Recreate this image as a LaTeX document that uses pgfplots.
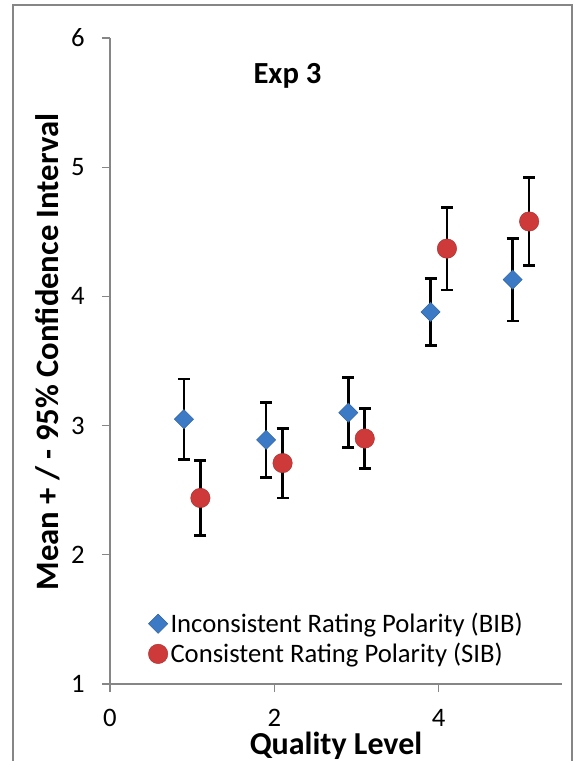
\documentclass[border=0pt]{standalone}
\usepackage{pgfplots}
\pgfplotsset{compat=1.18}
\usepackage{fontspec}
\setmainfont{Carlito}
\definecolor{MarkBlue}{HTML}{3C7AC6}
\definecolor{MarkRed}{HTML}{CE3A3A}
\definecolor{AxisGray}{HTML}{868686}

\begin{document}
\begin{tikzpicture}
\begin{axis}[
  scale only axis,
  width=339pt,
  height=484.5pt,
  xmin=0, xmax=5.5,
  ymin=1, ymax=6,
  axis x line=bottom,
  axis y line=left,
  axis line style={-, draw=AxisGray, line width=0.8pt},
  xtick={0,2,4},
  ytick={1,2,3,4,5,6},
  tick align=outside,
  major tick length=6pt,
  tick style={draw=AxisGray, line width=0.8pt},
  /pgf/number format/assume math mode=true,
  ticklabel style={font=\fontsize{20}{20}\selectfont},
  xticklabel style={yshift=-12.5pt, inner sep=0pt},
  yticklabel style={xshift=-9.5pt},
  every axis x label/.style={at={(rel axis cs:0.5,0)}, anchor=south, yshift=-57pt, inner sep=0pt},
  every axis y label/.style={at={(rel axis cs:0,0.514)}, anchor=center, xshift=-47pt, rotate=90},
  xlabel={Quality Level},
  ylabel={Mean + / - 95\% Confidence Interval},
  xlabel style={font=\bfseries\fontsize{24}{24}\selectfont},
  ylabel style={font=\bfseries\fontsize{24.5}{24.5}\selectfont},
  legend style={at={(rel axis cs:0.0755,0.1186)}, anchor=north west, draw=none, fill=none,
    font=\fontsize{20}{22}\selectfont, row sep=2.5pt},
  legend cell align=left,
  clip=false,
]
\addplot+[only marks, mark=square*, mark options={rotate=45, fill=MarkBlue, draw=MarkBlue!80!black, line width=0.3pt, mark size=5.1pt},
  error bars/.cd, y dir=both, y explicit,
  error bar style={black, line width=2pt},
  error mark options={rotate=90, mark size=4.5pt, line width=2pt, black}]
coordinates {
  (0.9,3.05) +- (0,0.31)
  (1.9,2.89) +- (0,0.29)
  (2.9,3.10) +- (0,0.27)
  (3.9,3.88) +- (0,0.26)
  (4.9,4.13) +- (0,0.32)
};
\addlegendentry{Inconsistent Rating Polarity (BIB)}
\addplot+[only marks, mark=*, mark options={fill=MarkRed, draw=MarkRed!80!black, line width=0.3pt, mark size=7.3pt},
  error bars/.cd, y dir=both, y explicit,
  error bar style={black, line width=2pt},
  error mark options={rotate=90, mark size=4.5pt, line width=2pt, black}]
coordinates {
  (1.1,2.44) +- (0,0.29)
  (2.1,2.71) +- (0,0.27)
  (3.1,2.90) +- (0,0.23)
  (4.1,4.37) +- (0,0.32)
  (5.1,4.58) +- (0,0.34)
};
\addlegendentry{Consistent Rating Polarity (SIB)}
\node[font=\bfseries\fontsize{23}{23}\selectfont] at (axis cs:2.16,5.71) {Exp 3};
\end{axis}
\draw[AxisGray, line width=0.8pt] (-72.75pt,-57.75pt) -- (-72.75pt,509.25pt) -- (346.5pt,509.25pt) -- (346.5pt,-57.75pt);
\pgfresetboundingbox
\useasboundingbox (-82.5pt,-57.75pt) rectangle (352.5pt,513pt);
\end{tikzpicture}
\end{document}
